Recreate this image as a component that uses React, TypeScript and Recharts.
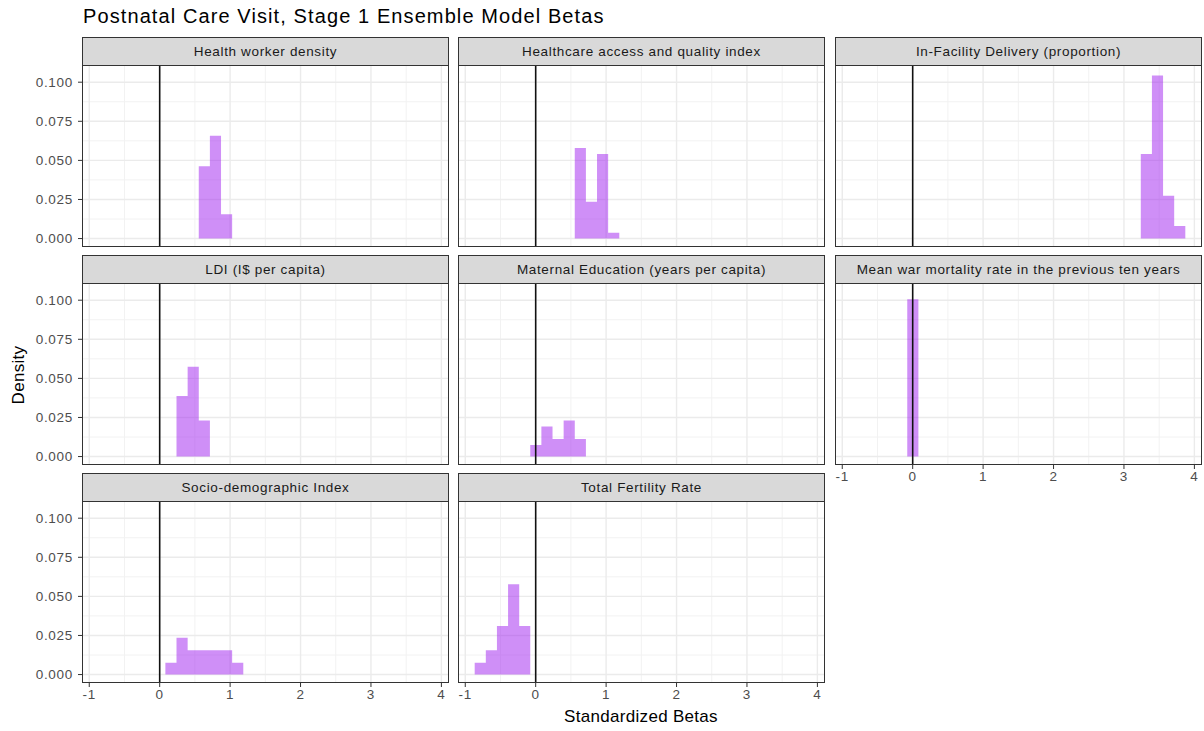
import React from 'react';
import { ComposedChart, Area, XAxis, YAxis, ReferenceLine } from 'recharts';

// bin edges shared by every facet (30 bins)
const binEdges = [
  -0.866, -0.708, -0.55, -0.392, -0.234, -0.077, 0.081, 0.239, 0.397, 0.555,
  0.713, 0.871, 1.029, 1.187, 1.345, 1.503, 1.66, 1.818, 1.976, 2.134,
  2.292, 2.45, 2.608, 2.766, 2.924, 3.082, 3.239, 3.397, 3.555, 3.713, 3.871,
];

const facetNames = [
  'Health worker density',
  'Healthcare access and quality index',
  'In-Facility Delivery (proportion)',
  'LDI (I$ per capita)',
  'Maternal Education (years per capita)',
  'Mean war mortality rate in the previous ten years',
  'Socio-demographic Index',
  'Total Fertility Rate',
];

// index of the first non-empty bin in each facet
const firstBin = [9, 9, 26, 7, 5, 5, 6, 0];

const healthWorker = [0.0462, 0.0657, 0.0155];
const haqIndex = [0.0579, 0.0235, 0.054, 0.0037];
const inFacility = [0.054, 0.1043, 0.0274, 0.008];
const ldi = [0.0387, 0.0575, 0.023];
const maternalEdu = [0.0074, 0.0192, 0.0113, 0.023, 0.0113];
const warMortality = [0.1006];
const sdi = [0.0075, 0.0235, 0.0155, 0.0155, 0.0155, 0.0155, 0.0075];
const tfr = [0.0075, 0.0155, 0.031, 0.0577, 0.031];

const facetHeights = [healthWorker, haqIndex, inFacility, ldi, maternalEdu, warMortality, sdi, tfr];

const xTicks = [-1, 0, 1, 2, 3, 4];
const xMinor = [-0.5, 0.5, 1.5, 2.5, 3.5];
const yTicks = [0, 0.025, 0.05, 0.075, 0.1];
const yMinor = [0.0125, 0.0375, 0.0625, 0.0875];

const FONT = '"Liberation Sans", Arial, Helvetica, sans-serif';
const X_DOMAIN: [number, number] = [-1.103, 4.108];
const Y_DOMAIN: [number, number] = [-0.0054, 0.111];
const PANEL_W = 367;
const PANEL_H = 182;
const STRIP_H = 28;
const colLeft = [82, 458, 835];
const stripTop = [37, 255, 473];

const stepData = (first: number, heights: number[]) => {
  const pts = heights.map((h, i) => ({ x: binEdges[first + i], y: h }));
  pts.push({ x: binEdges[first + heights.length], y: 0 });
  return pts;
};

const tickStyle = { fill: '#4D4D4D', fontSize: 13.5, fontFamily: FONT, letterSpacing: 0.7 };

interface PanelProps {
  idx: number;
  showX: boolean;
  showY: boolean;
}

const Panel: React.FC<PanelProps> = ({ idx, showX, showY }) => {
  const col = idx % 3;
  const row = Math.floor(idx / 3);
  const left = colLeft[col];
  const sTop = stripTop[row];
  const top = sTop + STRIP_H;
  const ml = showY ? 82 : 14;
  const mr = 14;
  const xh = showX ? 30 : 0;
  const data = stepData(firstBin[idx], facetHeights[idx]);

  return (
    <>
      <div
        style={{
          position: 'absolute', left, top: sTop, width: PANEL_W, height: STRIP_H + 1,
          boxSizing: 'border-box', background: '#D9D9D9', border: '1px solid #333',
          display: 'flex', alignItems: 'center', justifyContent: 'center',
          fontFamily: FONT, fontSize: 13.5, letterSpacing: 0.65, color: '#1A1A1A',
        }}
      >
        {facetNames[idx]}
      </div>
      {/* background grid */}
      <div style={{ position: 'absolute', left: left - ml, top }}>
        <ComposedChart
          width={ml + PANEL_W + mr}
          height={PANEL_H}
          data={data}
          margin={{ top: 0, right: mr, bottom: 0, left: ml }}
        >
          <XAxis type="number" dataKey="x" domain={X_DOMAIN} allowDataOverflow hide />
          <YAxis type="number" domain={Y_DOMAIN} allowDataOverflow hide />
          {xMinor.map((v) => (
            <ReferenceLine key={'xm' + v} x={v} stroke="#F2F2F2" strokeWidth={1} />
          ))}
          {yMinor.map((v) => (
            <ReferenceLine key={'ym' + v} y={v} stroke="#F2F2F2" strokeWidth={1} />
          ))}
          {xTicks.map((v) => (
            <ReferenceLine key={'x' + v} x={v} stroke="#EBEBEB" strokeWidth={1.4} />
          ))}
          {yTicks.map((v) => (
            <ReferenceLine key={'y' + v} y={v} stroke="#EBEBEB" strokeWidth={1.4} />
          ))}
        </ComposedChart>
      </div>
      {/* histogram, zero line and axes */}
      <div style={{ position: 'absolute', left: left - ml, top }}>
        <ComposedChart
          width={ml + PANEL_W + mr}
          height={PANEL_H + xh}
          data={data}
          margin={{ top: 0, right: mr, bottom: 0, left: showY ? 0 : ml }}
        >
          <XAxis
            type="number" dataKey="x" domain={X_DOMAIN} allowDataOverflow
            ticks={xTicks} interval={0} hide={!showX} height={xh}
            axisLine={false} tickSize={4} tickMargin={2}
            tickLine={{ stroke: '#333' }}
            tick={tickStyle}
          />
          <YAxis
            type="number" domain={Y_DOMAIN} allowDataOverflow
            ticks={yTicks} interval={0} hide={!showY} width={82}
            axisLine={false} tickSize={4} tickMargin={5}
            tickLine={{ stroke: '#333' }}
            tickFormatter={(v: number) => v.toFixed(3)}
            tick={tickStyle}
          />
          <Area
            type="stepAfter" dataKey="y" baseValue={0}
            fill="#A020F0" fillOpacity={0.5} stroke="none"
            isAnimationActive={false}
          />
          <ReferenceLine x={0} stroke="#111" strokeWidth={1.6} />
        </ComposedChart>
      </div>
      <div
        style={{
          position: 'absolute', left, top, width: PANEL_W, height: PANEL_H,
          boxSizing: 'border-box', border: '1px solid #333', pointerEvents: 'none',
        }}
      />
    </>
  );
};

const App: React.FC = () => {
  return (
    <div style={{ position: 'absolute', left: 0, top: 0, width: 1204, height: 731, background: '#fff', fontFamily: FONT }}>
      <div style={{ position: 'absolute', left: 83, top: 4, fontSize: 20, letterSpacing: 1.1, lineHeight: '24px', color: '#000', whiteSpace: 'nowrap' }}>
        Postnatal Care Visit, Stage 1 Ensemble Model Betas
      </div>
      {facetNames.map((_, i) => (
        <Panel key={i} idx={i} showY={i % 3 === 0} showX={i >= 5} />
      ))}
      <div
        style={{
          position: 'absolute', left: 19, top: 375, transform: 'translate(-50%, -50%) rotate(-90deg)',
          fontSize: 17, letterSpacing: 0.3, color: '#000', whiteSpace: 'nowrap',
        }}
      >
        Density
      </div>
      <div
        style={{
          position: 'absolute', left: 641, top: 717, transform: 'translate(-50%, -50%)',
          fontSize: 17, letterSpacing: 0.3, color: '#000', whiteSpace: 'nowrap',
        }}
      >
        Standardized Betas
      </div>
    </div>
  );
};

export default App;
